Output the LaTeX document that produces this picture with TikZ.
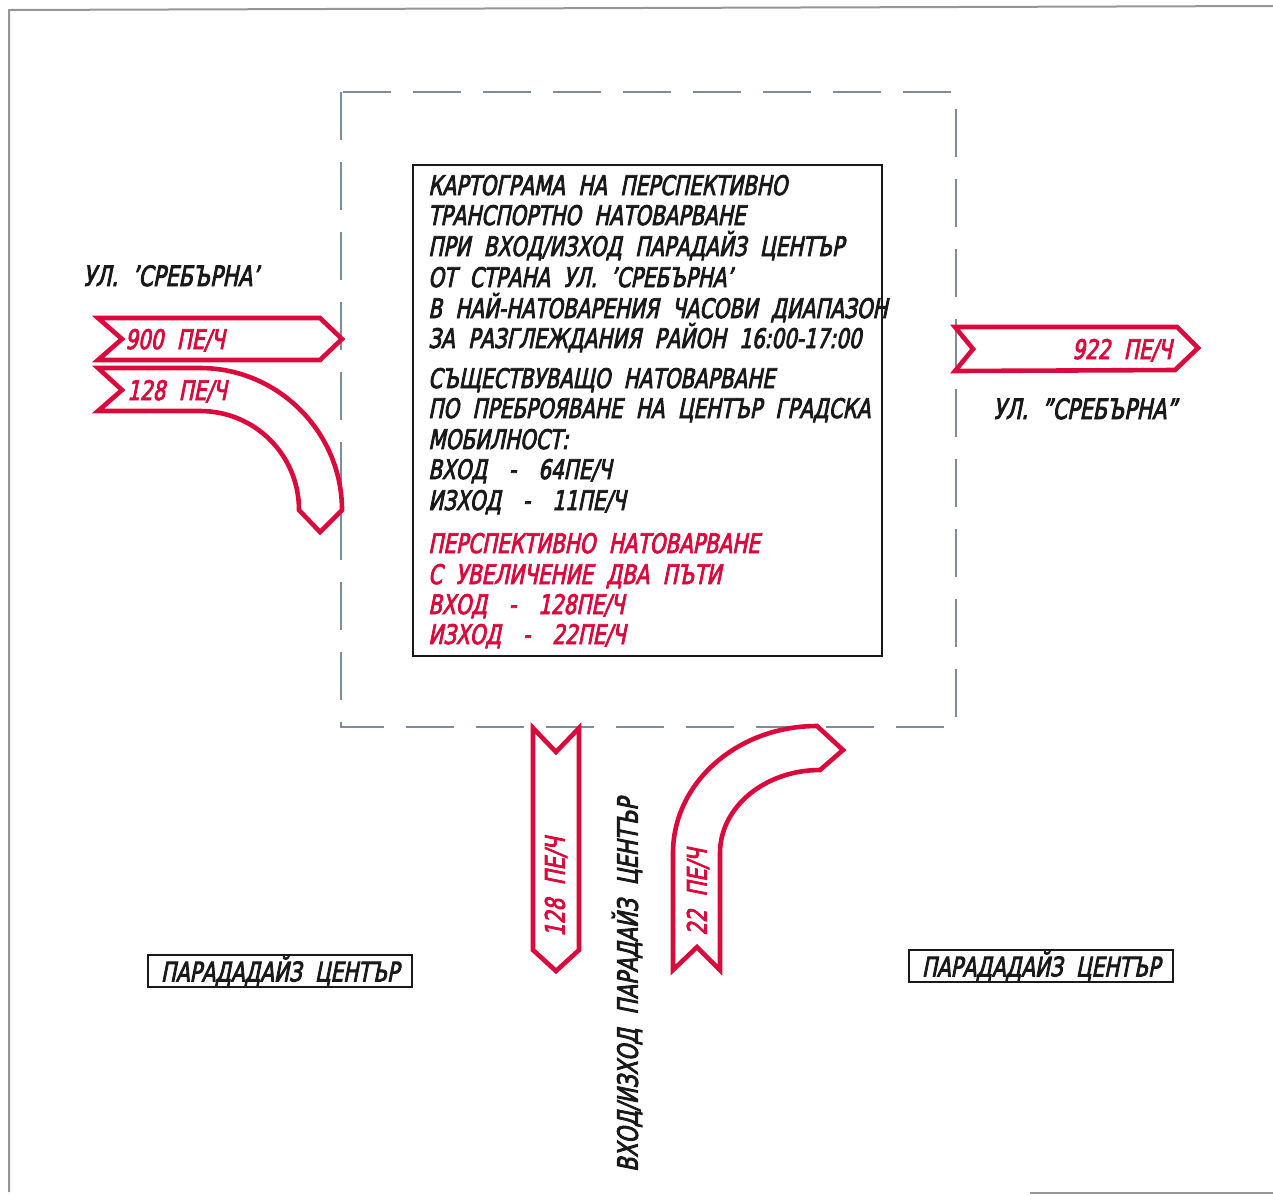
\documentclass[tikz,border=0pt]{standalone}
\usepackage{fontspec}
\setmainfont{DejaVu Sans}[FakeStretch=0.74,FakeSlant=0.2,FakeBold=3,WordSpace=2.1]
\definecolor{rd}{RGB}{218,10,60}
\definecolor{gr}{RGB}{125,140,155}
\definecolor{fr}{RGB}{150,150,150}
\definecolor{ink}{RGB}{25,25,25}
\newcommand{\dsh}{\hspace{22pt}-\hspace{22pt}}
\begin{document}
\begin{tikzpicture}[x=1pt,y=-1pt,
  band/.style={draw=rd,line width=4.6pt,line join=miter},
  txt/.style={font=\fontsize{27pt}{30pt}\selectfont,inner sep=0pt,text=ink},
  rtxt/.style={txt,text=rd},
  btxt/.style={txt,anchor=base west},
  rbtxt/.style={rtxt,anchor=base west},
  labbox/.style={txt,font=\fontsize{27pt}{28pt}\selectfont,draw=ink,line width=2pt,minimum width=264pt,minimum height=32pt}]
\useasboundingbox (0,0) rectangle (1273,1195);
% frame
\draw[fr,line width=2pt] (9,1192) -- (9,10) -- (1273,6);
\draw[fr,line width=2pt] (1030,1193) -- (1273,1193);
% dashed square
\draw[gr,line width=2pt,dash pattern=on 48pt off 22pt] (341,92) rectangle (956,727);
% inner box
\draw[ink,line width=2.5pt] (413,165) rectangle (882,656);
% box texts
\node[btxt] (t1) at (428,195) {КАРТОГРАМА НА ПЕРСПЕКТИВНО};
\node[btxt] (t2) at (428,225) {ТРАНСПОРТНО НАТОВАРВАНЕ};
\node[btxt] (t3) at (428,256) {ПРИ ВХОД/ИЗХОД ПАРАДАЙЗ ЦЕНТЪР};
\node[btxt] (t4) at (428,287) {ОТ СТРАНА УЛ. 'СРЕБЪРНА'};
\node[btxt] (t5) at (428,318) {В НАЙ-НАТОВАРЕНИЯ ЧАСОВИ ДИАПАЗОН};
\node[btxt] (t6) at (428,348) {ЗА РАЗГЛЕЖДАНИЯ РАЙОН 16:00-17:00};
\node[btxt] (t7) at (428,388) {СЪЩЕСТВУВАЩО НАТОВАРВАНЕ};
\node[btxt] (t8) at (428,418) {ПО ПРЕБРОЯВАНЕ НА ЦЕНТЪР ГРАДСКА};
\node[btxt] (t9) at (428,449) {МОБИЛНОСТ:};
\node[btxt] (t10) at (428,479) {ВХОД\dsh 64ПЕ/Ч};
\node[btxt] (t11) at (428,510) {ИЗХОД\dsh 11ПЕ/Ч};
\node[rbtxt] (t12) at (428,553) {ПЕРСПЕКТИВНО НАТОВАРВАНЕ};
\node[rbtxt] (t13) at (428,584) {С УВЕЛИЧЕНИЕ ДВА ПЪТИ};
\node[rbtxt] (t14) at (428,614) {ВХОД\dsh 128ПЕ/Ч};
\node[rbtxt] (t15) at (428,644) {ИЗХОД\dsh 22ПЕ/Ч};
% street labels
\node[btxt,font=\fontsize{28pt}{30pt}\selectfont] (ul1) at (83,286) {УЛ. 'СРЕБЪРНА'};
\node[btxt,font=\fontsize{28pt}{30pt}\selectfont] (ul2) at (993,419) {УЛ. "СРЕБЪРНА"};
% arrows
\draw[band] (98,318) -- (320,318) -- (342,339) -- (320,360) -- (98,360) -- (122,339) -- cycle;
\draw[band] (98,368) -- (200,368) .. controls (278,368) and (342,432) .. (342,510) -- (320,532) -- (299,510) .. controls (299,455) and (255,411) .. (200,411) -- (98,411) -- (122,390) -- cycle;
\draw[band] (955,327) -- (1177,327) -- (1198,348) -- (1175,370) -- (955,371) -- (973,349) -- cycle;
\draw[band] (533,728) -- (556,752) -- (579,728) -- (579,950) -- (556,971) -- (533,950) -- cycle;
\draw[band] (673,970) -- (673,853) .. controls (673,783) and (737,726) .. (817,726) -- (843,750) -- (820,770) .. controls (765,770) and (720,807) .. (720,853) -- (720,970) -- (697,947) -- cycle;
% arrow labels
\node[rbtxt] (a1) at (125,349) {900 ПЕ/Ч};
\node[rbtxt] (a2) at (127,400) {128 ПЕ/Ч};
\node[rtxt,anchor=base east] (a3) at (1172,359) {922 ПЕ/Ч};
\node[rtxt,rotate=90] (a4) at (556,887) {128 ПЕ/Ч};
\node[rtxt,rotate=90] (a5) at (698,892) {22 ПЕ/Ч};
% vertical label
\node[txt,font=\fontsize{28pt}{30pt}\selectfont,rotate=90] (vx) at (627,985) {ВХОД/ИЗХОД ПАРАДАЙЗ ЦЕНТЪР};
% bottom boxes
\node[labbox] (pl) at (280,971) {ПАРАДАДАЙЗ ЦЕНТЪР};
\node[labbox] (pr) at (1041,966) {ПАРАДАДАЙЗ ЦЕНТЪР};
\end{tikzpicture}
\end{document}
